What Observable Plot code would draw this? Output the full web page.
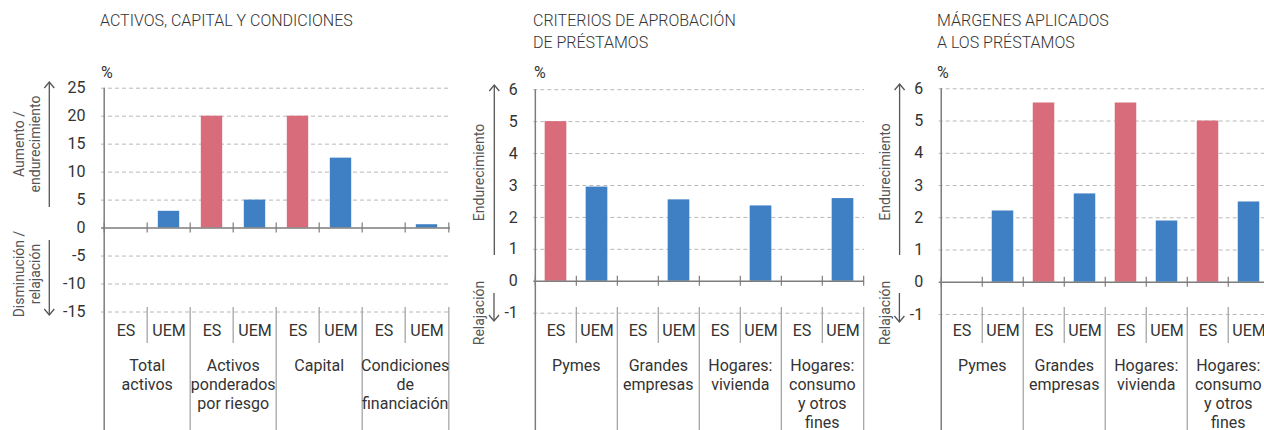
<!DOCTYPE html>
<html><head><meta charset="utf-8">
<script src="https://cdn.jsdelivr.net/npm/d3@7"></script>
<script src="https://cdn.jsdelivr.net/npm/@observablehq/plot@0.6"></script>
<style>
html,body{margin:0;padding:0;width:1264px;height:430px;overflow:hidden;background:#fff;font-family:Roboto,"Liberation Sans",sans-serif;}
#root{position:relative;width:1264px;height:430px;overflow:hidden;}
.panel{position:absolute;top:0;}
.title{position:absolute;font-size:16px;line-height:22px;color:#333;font-weight:300;white-space:nowrap;}
#ann{position:absolute;left:0;top:0;}
</style></head><body><div id="root"></div>
<script>
// ---- data ----
const titles = ["ACTIVOS, CAPITAL Y CONDICIONES", "CRITERIOS DE APROBACIÓN\nDE PRÉSTAMOS", "MÁRGENES APLICADOS\nA LOS PRÉSTAMOS"];
const seriesNames = ["ES", "UEM"];
const groups1 = ["Total\nactivos", "Activos\nponderados\npor riesgo", "Capital", "Condiciones\nde\nfinanciación"];
const es1 = [0, 20, 20, 0];
const uem1 = [3, 5, 12.5, 0.6];
const groups2 = ["Pymes", "Grandes\nempresas", "Hogares:\nvivienda", "Hogares:\nconsumo\ny otros\nfines"];
const es2 = [5, 0, 0, 0];
const uem2 = [2.95, 2.55, 2.36, 2.59];
const groups3 = ["Pymes", "Grandes\nempresas", "Hogares:\nvivienda", "Hogares:\nconsumo\ny otros\nfines"];
const es3 = [0, 5.56, 5.56, 5];
const uem3 = [2.21, 2.74, 1.9, 2.49];
const ticks1 = [-15, -10, -5, 0, 5, 10, 15, 20, 25];
const ticks23 = [-1, 0, 1, 2, 3, 4, 5, 6];
const upLabels = [["Aumento /", "endurecimiento"], ["Endurecimiento"], ["Endurecimiento"]];
const downLabels = [["Disminución /", "relajación"], ["Relajación"], ["Relajación"]];

// ---- style ----
const RED = "#d96c7a", BLUE = "#3f80c4";
const AXIS = "#7d7d7d", GRID = "#b8b8b8", SEP = "#a6a6a6", TXT = "#333";
const H = 430, BARW = 22;
const SEP_TOP = 307, SEP_MID = 343, ES_Y = 335, GROUP_TOP = 357.5;

const root = document.getElementById("root");

function panel(cfg) {
  const {left, width, axisX, rightX, yTop, yBottom, domain, ticks, groups, es, uem} = cfg;
  const rows = [];
  groups.forEach((g, i) => {
    rows.push({group: g, series: seriesNames[0], key: i + "ES", idx: rows.length, value: es[i]});
    rows.push({group: g, series: seriesNames[1], key: i + "UEM", idx: rows.length, value: uem[i]});
  });
  const keys = rows.map(d => d.key);
  const ml = axisX - left, mr = left + width - rightX, mt = yTop, mb = H - yBottom;
  const bw = (rightX - axisX) / keys.length;
  const inset = (bw - BARW) / 2;
  const fb = H - mb; // frame bottom
  const plot = Plot.plot({
    width, height: H,
    marginLeft: ml, marginRight: mr, marginTop: mt, marginBottom: mb,
    style: {fontSize: "16px", fontFamily: "Roboto, 'Liberation Sans', sans-serif", color: TXT, background: "transparent", overflow: "visible"},
    x: {domain: keys, padding: 0, axis: null},
    y: {domain: [domain[0], domain[1]], ticks, tickSize: 0, tickPadding: 16, tickFormat: d => String(d), label: null},
    color: {domain: seriesNames, range: [RED, BLUE]},
    marks: [
      Plot.ruleY(ticks.filter(t => t !== 0), {stroke: GRID, strokeWidth: 1, strokeDasharray: "4,3"}),
      Plot.barY(rows, {x: "key", y: "value", fill: "series", insetLeft: inset, insetRight: inset}),
      Plot.ruleY([0], {stroke: AXIS, strokeWidth: 1.5}),
      // zero-line ticks at category boundaries
      Plot.ruleX(rows, {x: "key", dx: -bw / 2, y1: 0, y2: 0, insetTop: -5, insetBottom: -5, stroke: AXIS, strokeWidth: 1.2}),
      Plot.ruleX([keys[keys.length - 1]], {x: d => d, dx: bw / 2, y1: 0, y2: 0, insetTop: -5, insetBottom: -5, stroke: AXIS, strokeWidth: 1.2}),
      // y axis line running to the bottom
      Plot.ruleX([keys[0]], {x: d => d, dx: -bw / 2, insetBottom: -mb, stroke: AXIS, strokeWidth: 1.5}),
      // group separators
      Plot.ruleX(rows.filter(d => d.series === "ES" && d.idx > 0), {x: "key", dx: -bw / 2, insetTop: SEP_TOP - mt, insetBottom: -mb, stroke: SEP, strokeWidth: 1.3}),
      Plot.ruleX([keys[keys.length - 1]], {x: d => d, dx: bw / 2, insetTop: SEP_TOP - mt, insetBottom: -mb, stroke: SEP, strokeWidth: 1.3}),
      // ES/UEM separators
      Plot.ruleX(rows.filter(d => d.series === "UEM"), {x: "key", dx: -bw / 2, insetTop: SEP_TOP - mt, insetBottom: -(SEP_MID - fb), stroke: SEP, strokeWidth: 1.3}),
      // labels
      Plot.text(rows, {x: "key", text: "series", frameAnchor: "bottom", dy: ES_Y - fb, fontSize: 16, fill: TXT}),
      Plot.text(rows.filter(d => d.series === "UEM"), {x: "key", dx: -bw / 2, text: "group", frameAnchor: "bottom", lineAnchor: "top", lineHeight: 1.18, dy: GROUP_TOP - fb, fontSize: 16, fill: TXT})
    ]
  });
  const div = document.createElement("div");
  div.className = "panel";
  div.style.left = left + "px";
  div.style.width = width + "px";
  div.appendChild(plot);
  root.appendChild(div);
}

panel({left: 0, width: 460, axisX: 101, rightX: 450, yTop: 87.7, yBottom: 311.5, domain: [-15, 25], ticks: ticks1, groups: groups1, es: es1, uem: uem1});
panel({left: 460, width: 410, axisX: 533.3, rightX: 864, yTop: 89.2, yBottom: 312.7, domain: [-1, 6], ticks: ticks23, groups: groups2, es: es2, uem: uem2});
panel({left: 870, width: 410, axisX: 938.7, rightX: 1270.7, yTop: 88.3, yBottom: 314, domain: [-1, 6], ticks: ticks23, groups: groups3, es: es3, uem: uem3});

// ---- titles ----
const titleX = [100, 533, 937];
titles.forEach((t, i) => {
  const d = document.createElement("div");
  d.className = "title";
  d.style.left = titleX[i] + "px";
  d.style.top = "9.5px";
  d.innerHTML = t.split("\n").join("<br>");
  root.appendChild(d);
});

// ---- annotations: %, side labels and arrows ----
const ns = "http://www.w3.org/2000/svg";
const ann = document.createElementNS(ns, "svg");
ann.setAttribute("id", "ann");
ann.setAttribute("width", 1264);
ann.setAttribute("height", 430);
root.appendChild(ann);
function el(name, attrs, text) {
  const e = document.createElementNS(ns, name);
  for (const k in attrs) e.setAttribute(k, attrs[k]);
  if (text != null) e.textContent = text;
  ann.appendChild(e);
  return e;
}
const pctX = [101, 534, 937];
pctX.forEach(x => el("text", {x, y: 77.5, "font-size": 16, fill: TXT, "font-family": "Roboto, 'Liberation Sans', sans-serif"}, "%"));

const side = [
  {lx: [19, 34.5], up: {cy: 144, ax: 49.3, from: 207, to: 82}, down: {cy: 274, ax: 49.3, from: 240, to: 315}},
  {lx: [479], up: {cy: 172.5, ax: 494.3, from: 255, to: 85}, down: {cy: 313, ax: 494, from: 293, to: 321}},
  {lx: [884.7], up: {cy: 172, ax: 899.6, from: 255, to: 84}, down: {cy: 313, ax: 899.4, from: 293, to: 322}}
];
const SIDE = "#555";
side.forEach((s, i) => {
  [["up", upLabels[i]], ["down", downLabels[i]]].forEach(([k, lines]) => {
    const o = s[k];
    lines.forEach((ln, j) => {
      const x = s.lx[j];
      el("text", {x: 0, y: 0, transform: `translate(${x},${o.cy}) rotate(-90)`, "text-anchor": "middle", "dominant-baseline": "central", "font-size": 14, fill: SIDE, "font-family": "Roboto, 'Liberation Sans', sans-serif"}, ln);
    });
    el("line", {x1: o.ax, x2: o.ax, y1: o.from, y2: o.to, stroke: SIDE, "stroke-width": 1.3});
    const dir = o.to < o.from ? 1 : -1;
    el("polyline", {points: `${o.ax - 5},${o.to + 6 * dir} ${o.ax},${o.to} ${o.ax + 5},${o.to + 6 * dir}`, fill: "none", stroke: SIDE, "stroke-width": 1.3});
  });
});
</script>
</body></html>
